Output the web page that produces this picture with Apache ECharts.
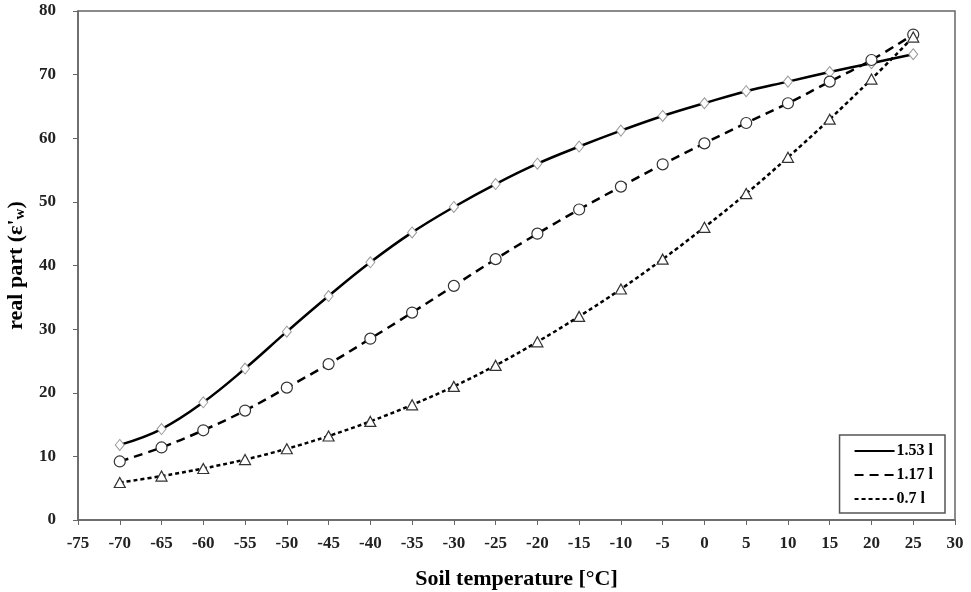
<!DOCTYPE html>
<html>
<head>
<meta charset="utf-8">
<script src="https://cdn.jsdelivr.net/npm/echarts@6/dist/echarts.min.js"></script>
<style>html,body{margin:0;padding:0;background:#fff;}#c{width:971px;height:592px;}</style>
</head>
<body>
<div id="c"></div>
<script>
const temps = [-70,-65,-60,-55,-50,-45,-40,-35,-30,-25,-20,-15,-10,-5,0,5,10,15,20,25];
const s153 = [11.8,14.3,18.5,23.8,29.6,35.2,40.5,45.2,49.2,52.8,56.0,58.7,61.2,63.5,65.5,67.4,68.9,70.4,71.8,73.2];
const s117 = [9.2,11.4,14.1,17.2,20.8,24.5,28.5,32.6,36.8,41.0,45.0,48.8,52.4,55.9,59.2,62.4,65.5,68.9,72.3,76.3];
const s07 = [5.9,6.9,8.1,9.5,11.2,13.2,15.5,18.1,21.0,24.3,28.0,32.0,36.3,41.0,46.0,51.3,57.0,63.0,69.3,75.9];
const names = ['1.53 l','1.17 l','0.7 l'];

const pair = (arr) => temps.map((t,i)=>[t,arr[i]]);
const font = '"Liberation Serif","Times New Roman",serif';

const chart = echarts.init(document.getElementById('c'));
chart.setOption({
  backgroundColor:'#fff',
  animation:false,
  textStyle:{fontFamily:font},
  grid:{left:78,right:16,top:11,bottom:72,show:true,borderColor:'#666',borderWidth:1.5,
        containLabel:false,outerBoundsMode:'none'},
  xAxis:{
    type:'value',min:-75,max:30,interval:5,
    name:'Soil temperature [°C]',nameLocation:'middle',nameGap:48,
    nameTextStyle:{fontFamily:font,fontWeight:'bold',fontSize:22,color:'#000'},
    axisLine:{onZero:false,lineStyle:{color:'#666',width:1.5}},
    axisTick:{show:true,length:5,lineStyle:{color:'#666'}},
    axisLabel:{fontFamily:font,fontWeight:'bold',fontSize:17,color:'#222',margin:15},
    splitLine:{show:false}
  },
  yAxis:{
    type:'value',min:0,max:80,interval:10,
    name:"{a|real part (ε'}{s|w}{a|)}",nameLocation:'middle',nameGap:43,nameRotate:90,
    nameTextStyle:{fontFamily:font,fontWeight:'bold',fontSize:22,color:'#000',
      rich:{
        a:{fontFamily:font,fontWeight:'bold',fontSize:22,color:'#000'},
        s:{fontFamily:font,fontWeight:'bold',fontSize:15,color:'#000',padding:[8,0,0,0]}
      }},
    axisLine:{show:true,onZero:false,lineStyle:{color:'#666',width:1.5}},
    axisTick:{show:true,length:5,lineStyle:{color:'#666'}},
    axisLabel:{fontFamily:font,fontWeight:'bold',fontSize:17,color:'#222',margin:22},
    splitLine:{show:false}
  },
  legend:{
    orient:'vertical',right:26,bottom:79,
    data:names,
    itemWidth:40,itemHeight:10,itemGap:8,
    padding:[8,12,6,14],
    backgroundColor:'#fff',borderColor:'#555',borderWidth:1.5,
    itemStyle:{color:'transparent',borderColor:'transparent',borderWidth:0},
    textStyle:{fontFamily:font,fontWeight:'bold',fontSize:16,color:'#000',padding:[0,0,0,-3]}
  },
  series:[
    {name:names[0],type:'line',data:pair(s153),smooth:0.4,
     symbol:'diamond',symbolSize:[9,11],
     lineStyle:{color:'#000',width:2.5,type:'solid'},
     itemStyle:{color:'#fff',borderColor:'#999',borderWidth:1}},
    {name:names[1],type:'line',data:pair(s117),smooth:0.4,
     symbol:'circle',symbolSize:11,
     lineStyle:{color:'#000',width:2.5,type:[9,6]},
     itemStyle:{color:'#fff',borderColor:'#333',borderWidth:1.2}},
    {name:names[2],type:'line',data:pair(s07),smooth:0.4,
     symbol:'triangle',symbolSize:[11,10],
     lineStyle:{color:'#000',width:2.5,type:[4,3]},
     itemStyle:{color:'#fff',borderColor:'#333',borderWidth:1.2}}
  ]
});
</script>
</body>
</html>
